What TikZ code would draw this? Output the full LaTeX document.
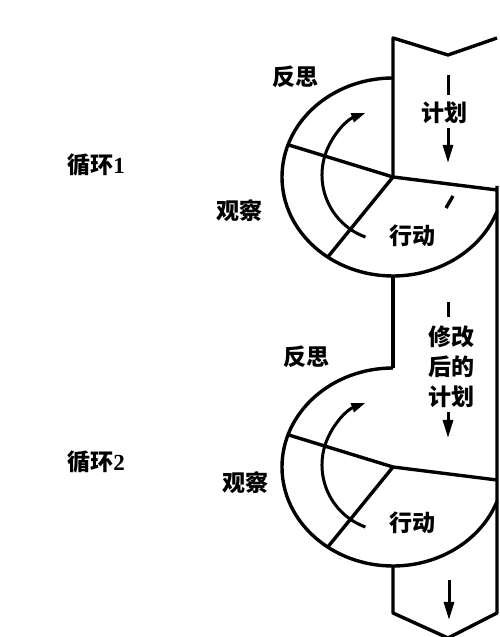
\documentclass[tikz,border=0pt]{standalone}
\usepackage{fontspec}
\newfontfamily\cjk{Noto Sans CJK SC}
\newfontfamily\digitfont{Liberation Serif}
\usetikzlibrary{arrows.meta,calc}
\begin{document}
\begin{tikzpicture}[x=1pt,y=1pt,
  line/.style={line width=3.4pt, line join=round},
  lbl/.style={font=\cjk\bfseries\fontsize{23}{30}\selectfont, inner sep=0pt, align=center},
  shaft/.style={line width=3pt},
  head/.style={-{Triangle[length=18pt,width=10pt]}, line width=3pt},
  turn/.style={-{Triangle[length=14pt,width=9pt]}, line width=3pt}]
\useasboundingbox (0,0) rectangle (500,637);
% key points
\coordinate (J1) at (393,460);
\coordinate (T1) at (393,559);
\coordinate (B1) at (393,361);
\coordinate (UL1) at ($(J1)+(161:111 and 99)$);
\coordinate (LL1) at ($(J1)+(234:111 and 99)$);
\coordinate (R1) at (497,447);
\coordinate (J2) at (393,170);
\coordinate (T2) at (393,269);
\coordinate (B2) at (393,71);
\coordinate (UL2) at ($(J2)+(161:111 and 99)$);
\coordinate (LL2) at ($(J2)+(234:111 and 99)$);
\coordinate (R2) at (497,157);
\coordinate (C1) at (388,462);
\coordinate (C2) at (388,172);
% bar
\draw[line] (497,599) -- (448,582) -- (393,599) -- (J1);
\draw[line] (B1) -- (T2);
\draw[line] (B2) -- (393,24) -- (448,-1) -- (497,24) -- (497,451);
% cycle 1
\draw[line] (T1) arc[start angle=90, end angle=339.6, x radius=111, y radius=99];
\draw[line] (J1) -- (UL1);
\draw[line] (J1) -- (LL1);
\draw[line] (J1) -- (R1);
\draw[turn] ($(C1)+(250:66)$) arc[start angle=250, end angle=110, radius=66];
\draw[line] (446,429) -- (453,441);
% cycle 2
\draw[line] (T2) arc[start angle=90, end angle=339.6, x radius=111, y radius=99];
\draw[line] (J2) -- (UL2);
\draw[line] (J2) -- (LL2);
\draw[line] (J2) -- (R2);
\draw[turn] ($(C2)+(250:66)$) arc[start angle=250, end angle=110, radius=66];
% plan arrows
\draw[shaft] (448,562) -- (448,542);
\draw[head] (448,509) -- (448,474);
\draw[shaft] (448,335) -- (448,320);
\draw[head] (448,225) -- (448,199);
\draw[head] (449,57) -- (449,17);
% labels
\node[lbl] (loop1) at (96,472) {循环{\digitfont\bfseries 1}};
\node[lbl] (refl1) at (295,560) {反思};
\node[lbl] (obs1) at (239,426) {观察};
\node[lbl] (act1) at (412,401) {行动};
\node[lbl] (plan1) at (444,524) {计划};
\node[lbl] (loop2) at (96,175) {循环{\digitfont\bfseries 2}};
\node[lbl] (refl2) at (306,280) {反思};
\node[lbl] (obs2) at (245,154) {观察};
\node[lbl] (act2) at (412,114) {行动};
\node[lbl] (plan2) at (451,270) {修改\\后的\\计划};
\end{tikzpicture}
\end{document}
